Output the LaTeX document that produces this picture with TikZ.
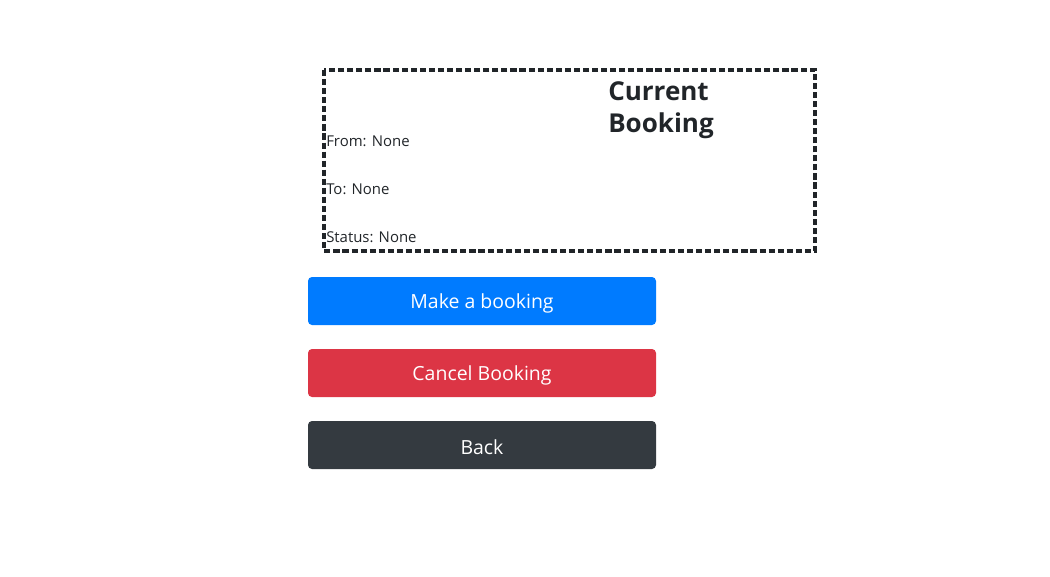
\documentclass[tikz,border=0pt]{standalone}
\usepackage{fontspec}
\setmainfont{Open Sans}
\usepackage{xcolor}
\definecolor{txtdark}{HTML}{212529}
\definecolor{btnblue}{HTML}{007BFF}
\definecolor{btnred}{HTML}{DC3545}
\definecolor{btndark}{HTML}{343A40}
\tikzset{
  card/.style={draw=txtdark, line width=2.4pt, dash pattern=on 4.6pt off 2.2pt},
  field/.style={anchor=base west, inner sep=0pt, text=txtdark, font=\fontsize{11.2}{13}\selectfont},
  button/.style={rounded corners=3pt, draw=none},
  btntext/.style={text=white, font=\fontsize{14.6}{18}\selectfont}
}
\begin{document}
\begin{tikzpicture}[x=0.75pt, y=-0.75pt]
   \useasboundingbox (0,0) rectangle (1050,576);

   % booking card
   \draw[card] (324,70) rectangle (815,251);
   \node[anchor=base west, inner sep=0pt, text=txtdark, font=\fontsize{19.5}{23.5}\selectfont\bfseries, align=left]
      (title) at (608,132) {Current\\Booking};

   \foreach \y/\t/\n in {146/From: None/from, 194/To: None/to, 242/Status: None/status}
     \node [field] (\n) at (326,\y) {\t};

   % buttons
   \foreach \y/\c/\t/\n in {277/btnblue/Make a booking/make, 349/btnred/Cancel Booking/cancel, 421/btndark/Back/back}
   {
     \fill[button, \c] (308,\y) rectangle (656,\y+48);
     \node [btntext] (\n) at (482,\y+26) {\t};
   }

\end{tikzpicture}
\end{document}
